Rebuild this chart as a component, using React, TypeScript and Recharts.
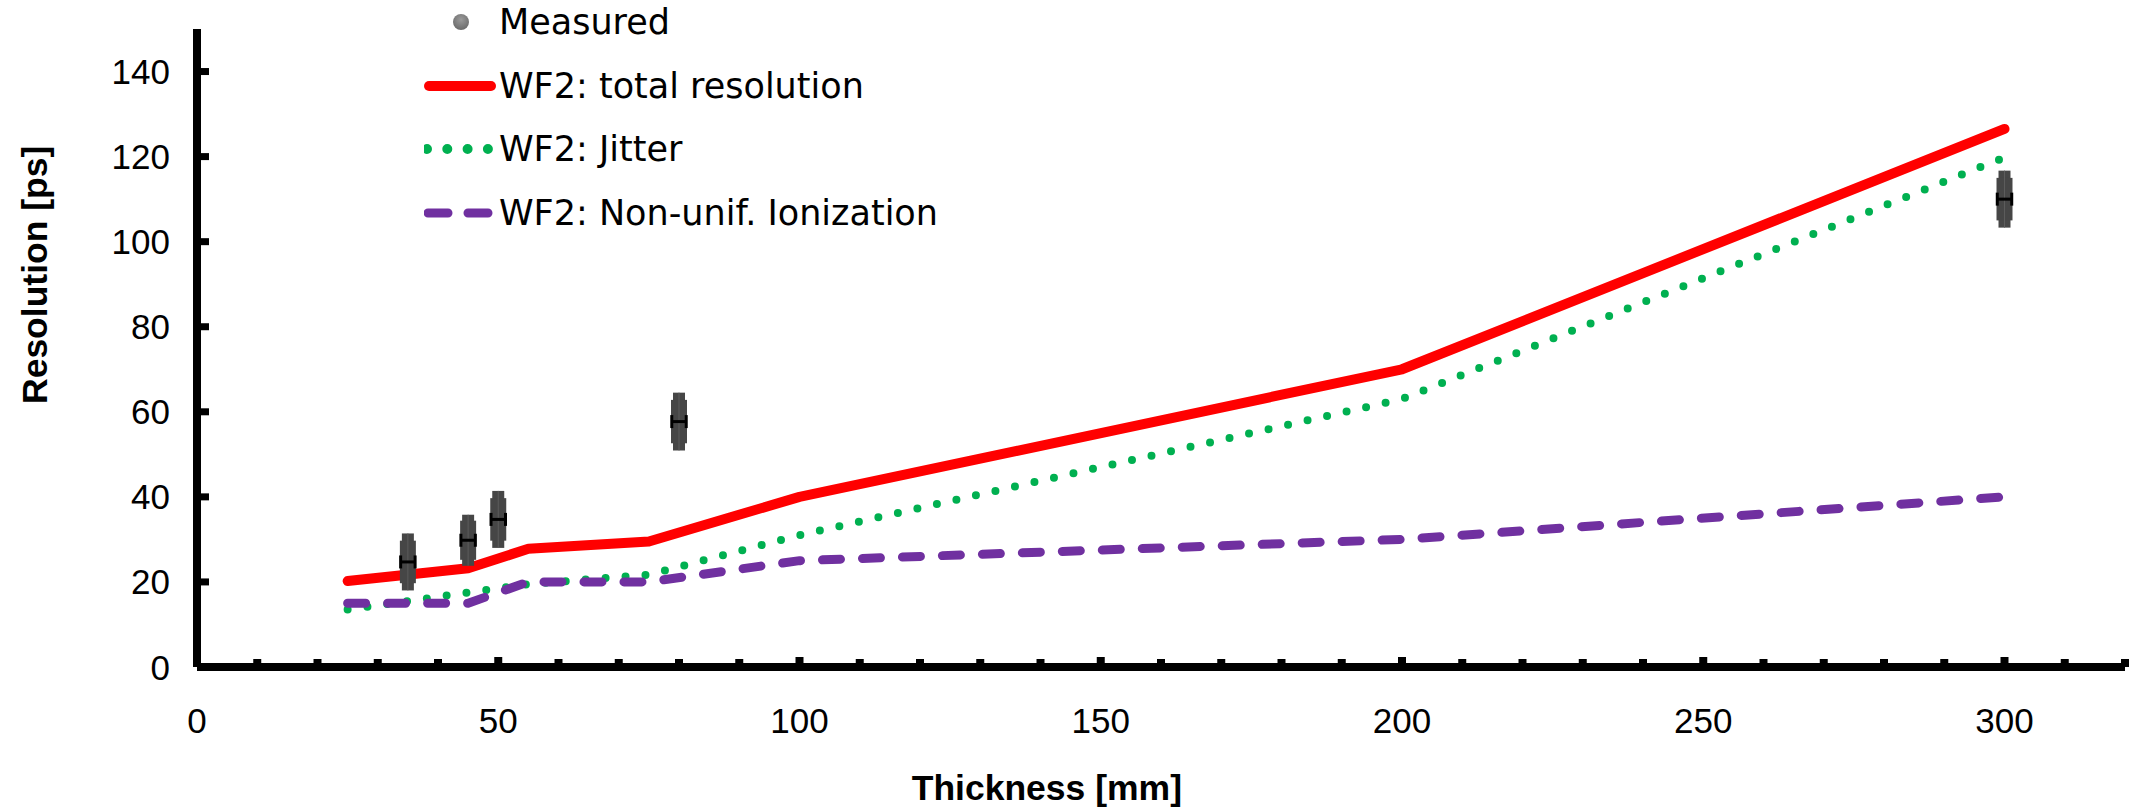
import React from 'react';
import { ComposedChart, Line, Scatter, XAxis, YAxis, ErrorBar, Legend, Label } from 'recharts';

// Model curves (WF2)
const thickness = [25, 45, 55, 75, 100, 200, 300];
const totalResolution = [20.2, 23.2, 27.8, 29.5, 40, 70, 126.5];
const jitter = [13.5, 17.5, 19.5, 21.7, 31, 63, 119.8];
const nonUnifIonization = [15, 15, 20, 20, 25, 30, 40];

// Measured points
const measuredThickness = [35, 45, 50, 80, 300];
const measuredResolution = [24.7, 29.8, 34.7, 57.7, 110];
const measuredErrOuter = [6.7, 6.0, 6.7, 6.8, 6.7];
const measuredErrInner = [5.0, 4.6, 5.0, 5.1, 5.0];
const measuredThicknessErr = [1.2, 1.2, 1.2, 1.2, 1.2];

// Ticks
const xTicks = [0, 10, 20, 30, 40, 50, 60, 70, 80, 90, 100, 110, 120, 130, 140, 150, 160, 170, 180, 190, 200, 210, 220, 230, 240, 250, 260, 270, 280, 290, 300, 310, 320];
const xLabelTicks = [0, 50, 100, 150, 200, 250, 300];
const yTicks = [0, 20, 40, 60, 80, 100, 120, 140];

const seriesNames = ['Measured', 'WF2: total resolution', 'WF2: Jitter', 'WF2: Non-unif. Ionization'];
const xTitle = 'Thickness [mm]';
const yTitle = 'Resolution [ps]';

const lineData = thickness.map((x, i) => ({
  x,
  total: totalResolution[i],
  jitter: jitter[i],
  nonUnif: nonUnifIonization[i],
}));

const measData = measuredThickness.map((x, i) => ({
  x,
  y: measuredResolution[i],
  errOuter: measuredErrOuter[i],
  errInner: measuredErrInner[i],
  xErr: measuredThicknessErr[i],
}));

const RED = '#FF0000';
const GREEN = '#00B050';
const PURPLE = '#7030A0';
const GREY = '#464646';
const TICK_FONT = '"Liberation Sans", Arial, sans-serif';
const LEGEND_FONT = '"DejaVu Sans", sans-serif';

const XTick = (props: any) => {
  const { x, y, payload } = props;
  const v = payload.value;
  const major = xLabelTicks.includes(v);
  return (
    <g>
      <line x1={x} x2={x} y1={y} y2={y - (major ? 10 : 8)} stroke="#000" strokeWidth={8} />
      {major && (
        <text x={x} y={y + 53} textAnchor="middle" dominantBaseline="central" fontFamily={TICK_FONT} fontSize={35} fill="#000">
          {v}
        </text>
      )}
    </g>
  );
};

const YTick = (props: any) => {
  const { x, y, payload } = props;
  return (
    <g>
      <line x1={x} x2={x + 12} y1={y} y2={y} stroke="#000" strokeWidth={7} />
      <text x={x - 27} y={y} textAnchor="end" dominantBaseline="central" fontFamily={TICK_FONT} fontSize={35} fill="#000">
        {payload.value}
      </text>
    </g>
  );
};

const LegendSymbol = ({ kind }: { kind: number }) => {
  if (kind === 0) {
    return (
      <svg width={72} height={24}>
        <defs>
          <radialGradient id="mgrad" cx="50%" cy="35%" r="60%">
            <stop offset="0%" stopColor="#9a9a9a" />
            <stop offset="100%" stopColor="#6e6e6e" />
          </radialGradient>
        </defs>
        <circle cx={37} cy={12} r={8} fill="url(#mgrad)" />
      </svg>
    );
  }
  if (kind === 1) {
    return (
      <svg width={72} height={24}>
        <line x1={5} x2={67} y1={12} y2={12} stroke={RED} strokeWidth={10} strokeLinecap="round" />
      </svg>
    );
  }
  if (kind === 2) {
    return (
      <svg width={72} height={24}>
        <line x1={3} x2={70} y1={12} y2={12} stroke={GREEN} strokeWidth={10} strokeLinecap="round" strokeDasharray="0 20.3" />
      </svg>
    );
  }
  return (
    <svg width={72} height={24}>
      <line x1={4} x2={64} y1={12} y2={12} stroke={PURPLE} strokeWidth={9} strokeLinecap="round" strokeDasharray="20 20" />
    </svg>
  );
};

const renderLegend = () => (
  <div style={{ display: 'flex', flexDirection: 'column' }}>
    {seriesNames.map((name, i) => (
      <div key={name} style={{ height: 63.7, display: 'flex', alignItems: 'center' }}>
        <LegendSymbol kind={i} />
        <span style={{ marginLeft: 3, fontFamily: LEGEND_FONT, fontSize: 35, color: '#000', whiteSpace: 'nowrap' }}>{name}</span>
      </div>
    ))}
  </div>
);

export default function App() {
  return (
    <div style={{ position: 'absolute', left: 0, top: 0, width: 2131, height: 812 }}>
      <ComposedChart width={2131} height={812} data={lineData} margin={{ top: 29, right: 6, bottom: 45, left: 0 }}>
        <XAxis
          dataKey="x"
          type="number"
          domain={[0, 320]}
          ticks={xTicks}
          interval={0}
          height={100}
          tickSize={0}
          tickMargin={0}
          tickLine={false}
          axisLine={{ stroke: '#000', strokeWidth: 8 }}
          tick={(p: any) => <XTick {...p} />}
        >
          <Label
            content={(props: any) => {
              const vb = props.viewBox;
              return (
                <text
                  x={1182}
                  y={vb.y + 121}
                  textAnchor="end"
                  dominantBaseline="central"
                  fontFamily={TICK_FONT}
                  fontWeight="bold"
                  fontSize={35.5}
                  fill="#000"
                >
                  {xTitle}
                </text>
              );
            }}
          />
        </XAxis>
        <YAxis
          type="number"
          domain={[0, 150]}
          ticks={yTicks}
          interval={0}
          width={197}
          tickSize={0}
          tickMargin={0}
          tickLine={false}
          axisLine={{ stroke: '#000', strokeWidth: 8 }}
          tick={(p: any) => <YTick {...p} />}
        >
          <Label
            content={() => (
              <text
                x={47}
                y={404}
                transform="rotate(-90, 47, 404)"
                textAnchor="start"
                fontFamily={TICK_FONT}
                fontWeight="bold"
                fontSize={35.5}
                fill="#000"
              >
                {yTitle}
              </text>
            )}
          />
        </YAxis>
        <Legend
          layout="vertical"
          align="center"
          verticalAlign="middle"
          content={renderLegend}
          wrapperStyle={{ left: 424, top: -10, width: 560, height: 260 }}
        />
        <Line
          dataKey="total"
          name={seriesNames[1]}
          stroke={RED}
          strokeWidth={10}
          strokeLinecap="round"
          strokeLinejoin="round"
          dot={false}
          activeDot={false}
          isAnimationActive={false}
        />
        <Line
          dataKey="jitter"
          name={seriesNames[2]}
          stroke={GREEN}
          strokeWidth={8}
          strokeLinecap="round"
          strokeDasharray="0 20"
          dot={false}
          activeDot={false}
          isAnimationActive={false}
        />
        <Line
          dataKey="nonUnif"
          name={seriesNames[3]}
          stroke={PURPLE}
          strokeWidth={9}
          strokeLinecap="round"
          strokeDasharray="18 22"
          dot={false}
          activeDot={false}
          isAnimationActive={false}
        />
        <Scatter
          data={measData}
          dataKey="y"
          name={seriesNames[0]}
          isAnimationActive={false}
          shape={() => <g />}
        >
          <ErrorBar dataKey="errOuter" direction="y" width={0} stroke={GREY} strokeWidth={12} isAnimationActive={false} />
          <ErrorBar dataKey="errInner" direction="y" width={0} stroke={GREY} strokeWidth={16} isAnimationActive={false} />
          <ErrorBar dataKey="errOuter" direction="y" width={0} stroke="#5c5c5c" strokeWidth={1} isAnimationActive={false} />
          <ErrorBar dataKey="xErr" direction="x" width={6.5} stroke="#000" strokeWidth={3} isAnimationActive={false} />
        </Scatter>
      </ComposedChart>
    </div>
  );
}
